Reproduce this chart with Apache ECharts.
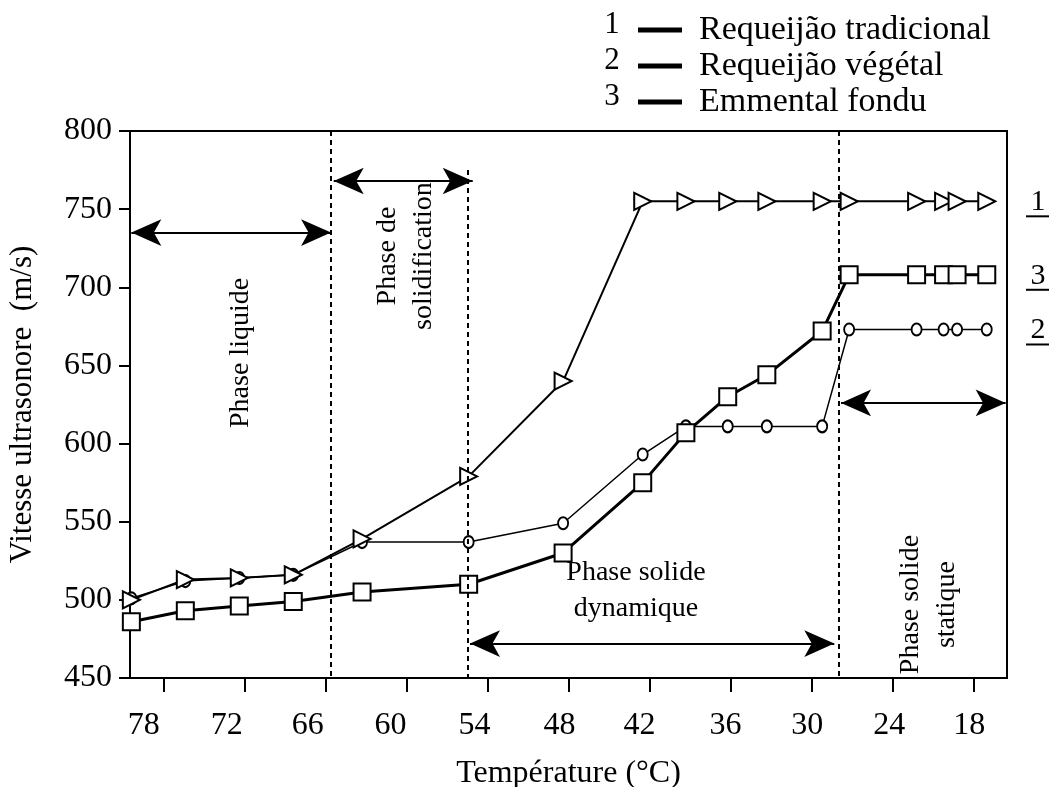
<!DOCTYPE html>
<html>
<head>
<meta charset="utf-8">
<script src="https://cdn.jsdelivr.net/npm/echarts@6/dist/echarts.min.js"></script>
<style>
html, body { margin: 0; padding: 0; background: #fff; }
#chart { width: 1049px; height: 787px; }
</style>
</head>
<body>
<div id="chart"></div>
<script>
// temperature of each reading (°C)
const temps = [80.4, 76.4, 72.4, 68.4, 63.3, 55.4, 48.4, 42.5, 39.3, 36.2, 33.3, 29.2, 27.2, 22.2, 20.2, 19.2, 17.0];
// ultrasound speed (m/s)
const tradicional = [500, 513, 514, 516, 539, 579, 640, 755, 755, 755, 755, 755, 755, 755, 755, 755, 755];
const vegetal = [501, 512, 514, 516, 537, 537, 549, 593, 611, 611, 611, 611, 673, 673, 673, 673, 673];
const emmental = [486, 493, 496, 499, 505, 510, 530, 575, 607, 630, 644, 672, 708, 708, 708, 708, 708];
const seriesNames = ['Requeijão tradicional', 'Requeijão végétal', 'Emmental fondu'];
const seriesNums = ['1', '2', '3'];
const xTicks = [78, 72, 66, 60, 54, 48, 42, 36, 30, 24, 18];
// phase limits (°C)
const phaseLimits = [65.6, 55.5, 28.0];

const serif = "'Liberation Serif', 'DejaVu Serif', serif";
// the printed tick labels sit a little left of their ticks
const labelShift = [20, 18, 18, 16, 13, 9, 10, 5, 4, 3, 4];

const chart = echarts.init(document.getElementById('chart'));

function pairs(ys) {
  return temps.map((t, i) => [t, ys[i]]);
}

const xRich = {};
labelShift.forEach((s, i) => {
  xRich['s' + i] = { fontFamily: serif, fontSize: 32, color: '#000', padding: [0, 2 * s, 0, 0] };
});

// dotted phase limits + double arrows, in data coords
const dotted = { type: [5, 4], width: 2, color: '#000' };
const markData = [
  [{ coord: [phaseLimits[0], 800], lineStyle: dotted }, { coord: [phaseLimits[0], 450] }],
  [{ coord: [phaseLimits[1], 775], lineStyle: dotted }, { coord: [phaseLimits[1], 450] }],
  [{ coord: [phaseLimits[2], 800], lineStyle: dotted }, { coord: [phaseLimits[2], 450] }],
  [{ coord: [80.4, 735], symbol: 'arrow' }, { coord: [65.6, 735], symbol: 'arrow' }],
  [{ coord: [65.4, 768], symbol: 'arrow' }, { coord: [55.1, 768], symbol: 'arrow' }],
  [{ coord: [55.3, 472], symbol: 'arrow' }, { coord: [28.3, 472], symbol: 'arrow' }],
  [{ coord: [27.8, 626], symbol: 'arrow' }, { coord: [15.6, 626], symbol: 'arrow' }]
];

const option = {
  animation: false,
  backgroundColor: '#fff',
  textStyle: { fontFamily: serif, color: '#000' },
  grid: {
    left: 130, right: 42, top: 131, bottom: 109,
    outerBoundsMode: 'none',
    show: true, borderColor: '#000', borderWidth: 2
  },
  legend: {
    data: seriesNames,
    orient: 'vertical',
    left: 633,
    top: 7,
    icon: 'rect',
    itemWidth: 44,
    itemHeight: 5,
    itemGap: 0,
    itemStyle: { color: '#000', borderWidth: 0 },
    textStyle: { fontFamily: serif, fontSize: 34, color: '#000', lineHeight: 36, padding: [0, 0, 0, 12] }
  },
  xAxis: {
    type: 'value',
    inverse: true,
    min: 15.5,
    max: 80.5,
    name: 'Température (°C)',
    nameLocation: 'middle',
    nameGap: 80,
    nameTextStyle: { fontFamily: serif, fontSize: 32, color: '#000' },
    splitLine: { show: false },
    axisLine: { lineStyle: { color: '#000', width: 2 } },
    axisTick: { customValues: xTicks, length: 14, lineStyle: { color: '#000', width: 2 } },
    axisLabel: {
      customValues: xTicks,
      margin: 32,
      formatter: v => '{s' + xTicks.indexOf(v) + '|' + v + '}',
      rich: xRich,
      fontFamily: serif,
      fontSize: 32,
      color: '#000'
    }
  },
  yAxis: {
    type: 'value',
    min: 450,
    max: 800,
    interval: 50,
    name: 'Vitesse ultrasonore  (m/s)',
    nameLocation: 'middle',
    nameGap: 92,
    nameTextStyle: { fontFamily: serif, fontSize: 31, color: '#000' },
    splitLine: { show: false },
    axisLine: { lineStyle: { color: '#000', width: 2 } },
    axisTick: { length: 11, lineStyle: { color: '#000', width: 2 } },
    axisLabel: { margin: 18, fontFamily: serif, fontSize: 32, color: '#000' }
  },
  series: [
    {
      name: seriesNames[1],
      type: 'line',
      data: pairs(vegetal),
      symbol: 'circle',
      symbolSize: [10, 12],
      lineStyle: { color: '#000', width: 1.5 },
      itemStyle: { color: '#fff', borderColor: '#000', borderWidth: 2 },
      z: 2
    },
    {
      name: seriesNames[2],
      type: 'line',
      data: pairs(emmental),
      symbol: 'rect',
      symbolSize: 17,
      lineStyle: { color: '#000', width: 3 },
      itemStyle: { color: '#fff', borderColor: '#000', borderWidth: 2 },
      z: 3
    },
    {
      name: seriesNames[0],
      type: 'line',
      data: pairs(tradicional),
      symbol: 'triangle',
      symbolRotate: -90,
      symbolSize: 17,
      lineStyle: { color: '#000', width: 2 },
      itemStyle: { color: '#fff', borderColor: '#000', borderWidth: 2 },
      z: 4,
      markLine: {
        silent: true,
        symbol: ['none', 'none'],
        symbolSize: [20, 30],
        label: { show: false },
        lineStyle: { color: '#000', width: 2, type: 'solid' },
        data: markData
      }
    }
  ]
};

chart.setOption(option);

function px(t, v) {
  return chart.convertToPixel({ gridIndex: 0 }, [t, v]);
}

// phase captions, anchored in data coords
const captions = [
  { text: 'Phase liquide', at: [72.3, 658], rotate: true },
  { text: 'Phase de\nsolidification', at: [60.1, 720], rotate: true },
  { text: 'Phase solide\ndynamique', at: [43, 506], rotate: false },
  { text: 'Phase solide\nstatique', at: [21.3, 497], rotate: true }
];

const graphics = [];
captions.forEach(c => {
  const p = px(c.at[0], c.at[1]);
  graphics.push({
    type: 'text',
    x: p[0],
    y: p[1],
    rotation: c.rotate ? Math.PI / 2 : 0,
    style: { text: c.text, font: '28px ' + serif, fill: '#000', align: 'center', verticalAlign: 'middle', lineHeight: 36 }
  });
});

// numbers in front of the legend rows
seriesNums.forEach((n, i) => {
  graphics.push({
    type: 'text', x: 612, y: 25 + i * 36,
    style: { text: n, font: '31px ' + serif, fill: '#000', align: 'center', verticalAlign: 'middle' }
  });
});

// underlined curve numbers at the right end of each curve
[[tradicional, '1'], [vegetal, '2'], [emmental, '3']].forEach(([ys, n]) => {
  const p = px(temps[temps.length - 1], ys[ys.length - 1]);
  graphics.push({
    type: 'text', x: 1038, y: p[1] + 1,
    style: { text: n, font: '30px ' + serif, fill: '#000', align: 'center', verticalAlign: 'middle' }
  });
  graphics.push({
    type: 'rect', shape: { x: 1026, y: p[1] + 14, width: 23, height: 2 },
    style: { fill: '#000' }
  });
});

chart.setOption({ graphic: graphics });
</script>
</body>
</html>
